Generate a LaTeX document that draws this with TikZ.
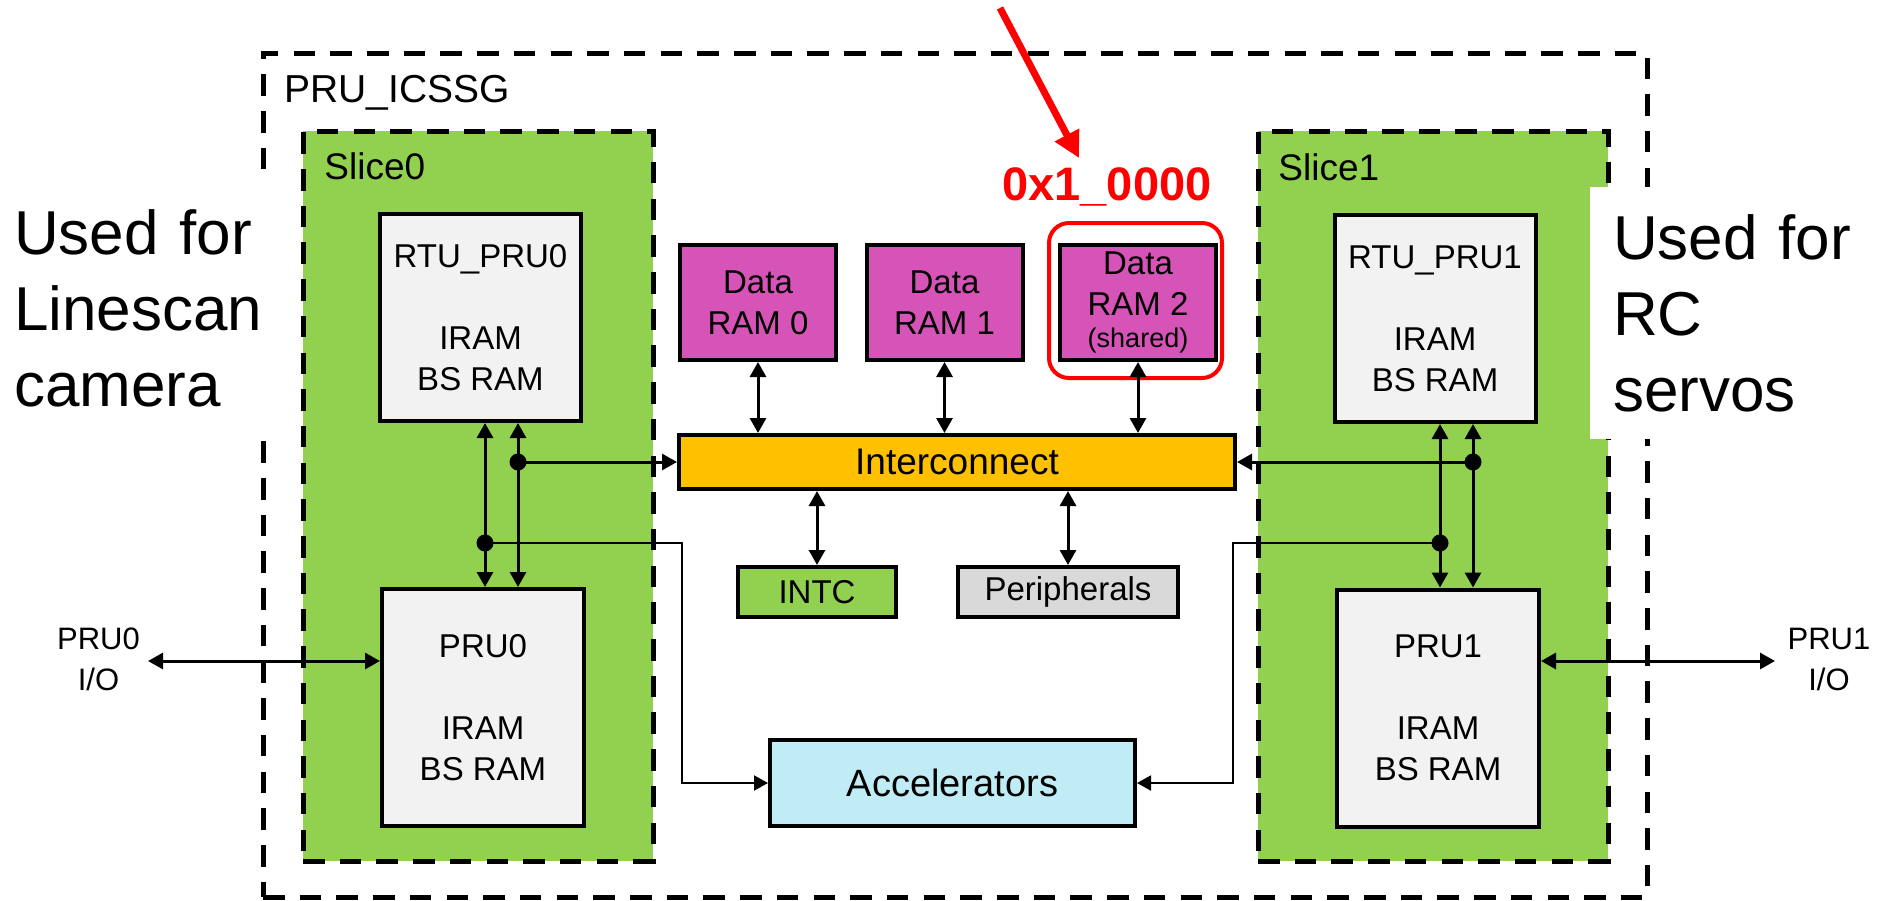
\documentclass[tikz,border=0pt]{standalone}
\usepackage{fontspec}
\setmainfont{Liberation Sans}
\usetikzlibrary{arrows.meta}

\definecolor{slicegreen}{RGB}{146,208,80}
\definecolor{coregrey}{RGB}{242,242,242}
\definecolor{ramred}{RGB}{214,84,183}
\definecolor{busgold}{RGB}{255,192,0}
\definecolor{accblue}{RGB}{192,236,246}
\definecolor{perigrey}{RGB}{217,217,217}

\newcommand\blkfont{\fontsize{16.5pt}{20.5pt}\selectfont}
\newcommand\sidefont{\fontsize{31pt}{38pt}\selectfont}
\newcommand\iofont{\fontsize{15.5pt}{20.5pt}\selectfont}

\begin{document}
\begin{tikzpicture}[x=0.5pt, y=-0.5pt,
  >={Triangle[length=7.5pt,width=8pt]},
  frame/.style={draw, line width=2.5pt, dash pattern=on 10.75pt off 7.6pt,
    inner sep=0pt, outer sep=0pt, anchor=north west},
  slicebox/.style={frame, fill=slicegreen},
  block/.style={draw, line width=2pt, inner sep=0pt, align=center, font=\blkfont},
  note/.style={fill=white, inner ysep=0pt, align=left, font=\sidefont},
  caption/.style={anchor=base west, inner sep=0pt},
  link/.style={line width=1.5pt, <->},
  into/.style={line width=1.5pt, ->},
  feed/.style={line width=1pt, -{Triangle[length=7pt,width=7.5pt]}},
  pointer/.style={draw=red, line width=3.5pt, -{Triangle[length=13pt,width=13pt]}},
]
\useasboundingbox (0,0) rectangle (1884,900);
\fill[white] (0,0) rectangle (1884,900);

% subsystem frame and the two slices
\node[frame, minimum width=692pt, minimum height=422pt] (icssg) at (263,53) {};
\node[slicebox, minimum width=175pt, minimum height=365pt] (slice0) at (303,131) {};
\node[slicebox, minimum width=175pt, minimum height=365pt] (slice1) at (1258,131) {};

\node[caption, font=\fontsize{19.5pt}{23pt}\selectfont] (icssgname) at (284,102) {PRU\_ICSSG};
\node[caption, font=\fontsize{18.5pt}{22pt}\selectfont] (slice0name) at (324,179) {Slice0};
\node[caption, font=\fontsize{18.5pt}{22pt}\selectfont] (slice1name) at (1278,180) {Slice1};

% usage notes on both sides
\node[note, minimum width=147.5pt, minimum height=126pt, text width=133.5pt, inner xsep=7pt]
  (use0) at (147.5,308) {Used for\\Linescan\\camera};
\node[note, minimum width=147pt, minimum height=126pt, text width=124pt, inner xsep=11.5pt]
  (use1) at (1737,313) {Used for\\RC\\servos};

% cores
\node[block, fill=coregrey, minimum width=100.5pt, minimum height=103.5pt] (rtu0) at (480.5,317.5)
  {RTU\_PRU0\\[20.5pt]IRAM\\BS RAM};
\node[block, fill=coregrey, minimum width=101pt, minimum height=118.5pt] (pru0) at (483,707.5)
  {PRU0\\[20.5pt]IRAM\\BS RAM};
\node[block, fill=coregrey, minimum width=100.5pt, minimum height=103.5pt] (rtu1) at (1435,318.5)
  {RTU\_PRU1\\[20.5pt]IRAM\\BS RAM};
\node[block, fill=coregrey, minimum width=101pt, minimum height=118.5pt] (pru1) at (1438,708)
  {PRU1\\[20.5pt]IRAM\\BS RAM};

% shared resources
\node[block, fill=ramred, minimum width=78pt, minimum height=57.5pt] (ram0) at (758,302.5) {Data\\RAM 0};
\node[block, fill=ramred, minimum width=78pt, minimum height=57.5pt] (ram1) at (944.5,302.5) {Data\\RAM 1};
\node[block, fill=ramred, minimum width=78pt, minimum height=57.5pt] (ram2) at (1138,302.5)
  {Data\\RAM 2\\[-4.5pt]{\fontsize{13.5pt}{16pt}\selectfont (shared)}};
\node[draw=red, line width=2pt, rounded corners=10pt, minimum width=86.5pt, minimum height=77.5pt,
  inner sep=0pt] (hl) at (1135.5,300.5) {};
\node[caption, text=red, font=\fontsize{23.5pt}{28pt}\selectfont\bfseries] (addr) at (1002,200) {0x1\_0000};

\node[block, fill=busgold, minimum width=278pt, minimum height=27pt,
  font=\fontsize{18.5pt}{22pt}\selectfont] (icx) at (957,462) {Interconnect};
\node[block, fill=slicegreen, minimum width=79pt, minimum height=25pt] (intc) at (817,592) {INTC};
\node[block, fill=perigrey, minimum width=110pt, minimum height=25pt] (peri) at (1068,592) {Peripherals};
\node[block, fill=accblue, minimum width=182.5pt, minimum height=43pt,
  font=\fontsize{19pt}{23pt}\selectfont] (acc) at (952.5,783) {Accelerators};

% external I/O labels
\node[align=center, inner sep=0pt, font=\iofont] (io0lbl) at (98.5,659.5) {PRU0\\I/O};
\node[align=center, inner sep=0pt, font=\iofont] (io1lbl) at (1829,659.5) {PRU1\\I/O};

% junctions and bends
\coordinate (j0a) at (518,462);
\coordinate (j0b) at (485,543);
\coordinate (j1a) at (1473,462);
\coordinate (j1b) at (1440,543);
\coordinate (r0) at (682,783);
\coordinate (r1) at (1233,783);
\coordinate (io0) at (148,661);
\coordinate (io1) at (1775,661);
\coordinate (ptrtail) at (1000,8);
\coordinate (ptrhead) at (1079,158);

% slice 0 wiring
\draw[link] (rtu0.south -| j0b) -- (pru0.north -| j0b);
\draw[link] (rtu0.south -| j0a) -- (pru0.north -| j0a);
\draw[into] (j0a) -- (icx.west |- j0a);
\draw[feed] (j0b) -| (r0) -- (acc.west |- r0);
\fill (j0a) circle[radius=4.25pt];
\fill (j0b) circle[radius=4.25pt];

% slice 1 wiring
\draw[link] (rtu1.south -| j1b) -- (pru1.north -| j1b);
\draw[link] (rtu1.south -| j1a) -- (pru1.north -| j1a);
\draw[into] (j1a) -- (icx.east |- j1a);
\draw[feed] (j1b) -| (r1) -- (acc.east |- r1);
\fill (j1a) circle[radius=4.25pt];
\fill (j1b) circle[radius=4.25pt];

% memory and peripheral ports
\draw[link] (ram0.south) -- (ram0.south |- icx.north);
\draw[link] (ram1.south) -- (ram1.south |- icx.north);
\draw[link] (ram2.south) -- (ram2.south |- icx.north);
\draw[link] (intc.north |- icx.south) -- (intc.north);
\draw[link] (peri.north |- icx.south) -- (peri.north);

% pins
\draw[link] (io0) -- (io0 -| pru0.west);
\draw[link] (pru1.east |- io1) -- (io1);

% address pointer
\draw[pointer] (ptrtail) -- (ptrhead);
\end{tikzpicture}
\end{document}
